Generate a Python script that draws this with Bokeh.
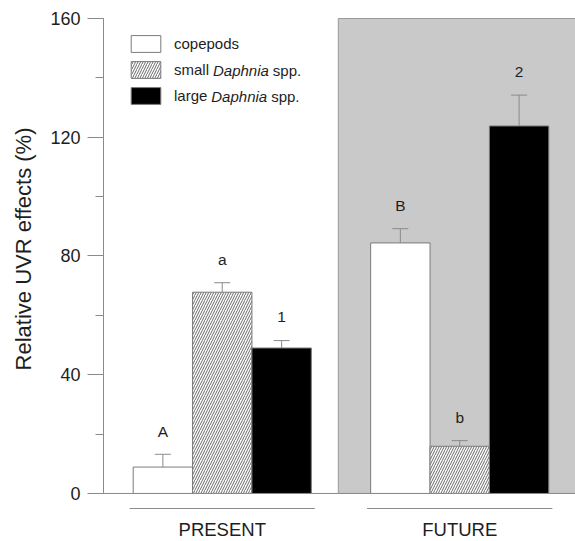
from bokeh.plotting import figure
from bokeh.models import (ColumnDataSource, Range1d, Span, Whisker, TeeHead,
                          Legend, LegendItem, Label, FixedTicker, Title)
from bokeh.core.properties import value
from bokeh.embed import file_html
from bokeh.resources import INLINE

# ---------------- data ----------------
groups = ["PRESENT", "FUTURE"]
series = ["copepods", "small Daphnia spp.", "large Daphnia spp."]
copepods = [8.9, 84.4]
copepods_err = [4.3, 4.8]
small_daphnia = [67.8, 15.9]
small_daphnia_err = [3.2, 1.9]
large_daphnia = [49.0, 123.8]
large_daphnia_err = [2.5, 10.4]
letters_copepods = ["A", "B"]
letters_small = ["a", "b"]
letters_large = ["1", "2"]
y_ticks = [0, 40, 80, 120, 160]
y_label = "Relative UVR effects (%)"

FONT = "Liberation Sans"
GRAY_LINE = "#8a8a8a"
TEXT = "#1e1e1e"

p = figure(width=575, height=541, output_backend="svg", toolbar_location=None,
           x_range=Range1d(0, 7.95), y_range=Range1d(-16.18, 160.34),
           x_axis_location=None, min_border_left=102, min_border_right=0,
           min_border_top=17, min_border_bottom=0)
p.outline_line_color = None
p.xgrid.visible = False
p.ygrid.visible = False
p.background_fill_color = "white"

# shaded FUTURE region
shade = ColumnDataSource(dict(left=[3.955], right=[9.0], bottom=[0], top=[160]))
p.quad(left="left", right="right", bottom="bottom", top="top", source=shade,
       fill_color="#c9c9c9", line_color="#9a9a9a", line_width=1)

# baseline
p.add_layout(Span(location=0, dimension="width", line_color=GRAY_LINE, line_width=1))

# bars
bar_specs = [
    (copepods, copepods_err, letters_copepods, dict(fill_color="white")),
    (small_daphnia, small_daphnia_err, letters_small,
     dict(fill_color="white", hatch_pattern="/", hatch_scale=5, hatch_weight=1,
          hatch_color="#6a6a6a")),
    (large_daphnia, large_daphnia_err, letters_large, dict(fill_color="black")),
]
renderers = []
for s, (vals, errs, lets, style) in enumerate(bar_specs):
    xs = [1 + 4 * g + s for g in range(len(groups))]
    src = ColumnDataSource(dict(
        x=xs, top=vals, up=[v + e for v, e in zip(vals, errs)],
        lab_y=[v + e + 7.8 for v, e in zip(vals, errs)], lab=lets))
    r = p.vbar(x="x", top="top", bottom=0, width=1.0, source=src,
               line_color="#7a7a7a", line_width=1, **style)
    renderers.append(r)
    w = Whisker(source=src, base="x", lower="top", upper="up", dimension="height",
                line_color=GRAY_LINE, line_width=1, level="overlay",
                upper_head=TeeHead(size=16, line_color=GRAY_LINE, line_width=1),
                lower_head=None)
    p.add_layout(w)
    p.text(x="x", y="lab_y", text="lab", source=src, text_align="center",
           text_baseline="middle", text_font=value(FONT), text_font_size="15.5px",
           text_color=TEXT)

# group underlines and labels
gx = [2 + 4 * g for g in range(len(groups))]
gsrc = ColumnDataSource(dict(x0=[c - 1.56 for c in gx], x1=[c + 1.56 for c in gx],
                             y=[-5.06] * len(gx), ty=[-12.1] * len(gx), x=gx, lab=groups))
p.segment(x0="x0", x1="x1", y0="y", y1="y", source=gsrc, line_color=GRAY_LINE, line_width=1)
p.text(x="x", y="ty", text="lab", source=gsrc, text_align="center", text_baseline="middle",
       text_font=value(FONT), text_font_size="18.5px", text_color=TEXT)

px_x = lambda px: (px - 102) / 59.5
px_y = lambda py: (493 - py) / 2.967

# y axis
ax = p.yaxis[0]
ax.bounds = (0, 160)
ax.ticker = FixedTicker(ticks=y_ticks, minor_ticks=list(range(0, 161, 20)))
ax.axis_line_color = GRAY_LINE
ax.major_tick_line_color = GRAY_LINE
ax.minor_tick_line_color = GRAY_LINE
ax.major_tick_out = 16
ax.major_tick_in = 0
ax.minor_tick_out = 8
ax.minor_tick_in = 0
ax.major_label_standoff = 7
ax.major_label_text_font = FONT
ax.major_label_text_font_size = "18px"
ax.major_label_text_color = TEXT

# y axis title, placed along the 0-160 span of the axis
p.add_layout(Title(text=y_label, align="right", vertical_align="top", offset=110,
                   standoff=20, text_font=FONT, text_font_size="22px",
                   text_font_style="normal", text_color=TEXT), "left")

# legend (first word by Bokeh legend, italic genus overlaid)
first_words = ["copepods", "small", "large"]
legend = Legend(items=[LegendItem(label=w, renderers=[r]) for w, r in zip(first_words, renderers)],
                location=(24, 435), padding=0, margin=0, spacing=5,
                glyph_width=37, glyph_height=21, label_height=21, label_standoff=10,
                label_text_font=FONT, label_text_font_size="15px", label_text_color=TEXT,
                border_line_color=None, background_fill_alpha=0)
p.add_layout(legend)

for py, start in [(70.0, 172.5 + 39.2), (96.0, 172.5 + 37.5)]:
    p.add_layout(Label(x=px_x(start), y=px_y(py), text="Daphnia", text_font=FONT,
                       text_font_style="italic", text_font_size="15px", text_color=TEXT,
                       text_baseline="middle"))
    p.add_layout(Label(x=px_x(start + 60), y=px_y(py), text="spp.", text_font=FONT,
                       text_font_size="15px", text_color=TEXT, text_baseline="middle"))

open("out.html", "w").write(file_html(p, INLINE))
